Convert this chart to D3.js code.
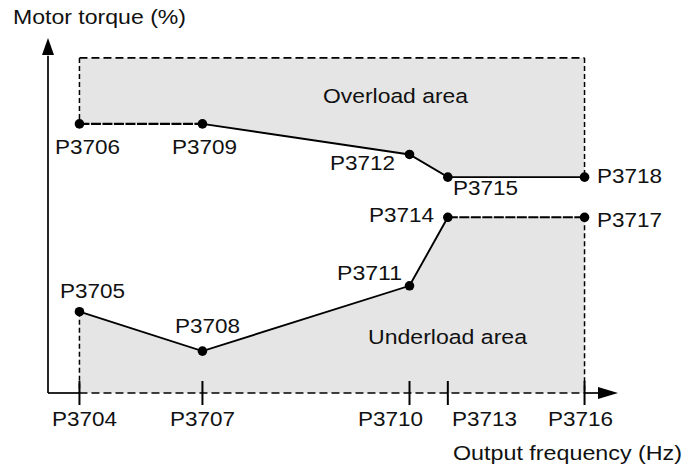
<!DOCTYPE html>
<html>
<head>
<meta charset="utf-8">
<script src="https://cdn.jsdelivr.net/npm/d3@7"></script>
<style>
  html, body { margin: 0; padding: 0; background: #fff; }
  svg { display: block; }
  text { font-family: "Liberation Sans", Arial, Helvetica, sans-serif; font-size: 20.5px; fill: #111; }
</style>
</head>
<body>
<svg id="chart" width="691" height="467"></svg>
<script>
// Output frequency breakpoints (relative units) and their parameter names
const freqParams = ["P3704", "P3707", "P3710", "P3713", "P3716"];
const freqValues = [5.5, 27, 63.2, 69.9, 93.8];

// Lower (underload) torque threshold at each breakpoint (% of axis)
const underParams = ["P3705", "P3708", "P3711", "P3714", "P3717"];
const underTorque = [22.9, 11.8, 30.2, 49.5, 49.5];

// Upper (overload) torque threshold at each breakpoint (% of axis)
const overParams = ["P3706", "P3709", "P3712", "P3715", "P3718"];
const overTorque = [75.8, 75.8, 67.2, 60.8, 60.8];

// Upper edge of the shaded overload band
const overloadCeiling = 94.4;

const axisTitles = { y: "Motor torque (%)", x: "Output frequency (Hz)" };
const areaTitles = { over: "Overload area", under: "Underload area" };

const svg = d3.select("#chart");
const x = d3.scaleLinear().domain([0, 100]).range([48, 620]);
const y = d3.scaleLinear().domain([0, 100]).range([393, 38]);

const fill = "#e5e5e5";
const ink = "#000";

// text set in a slightly wide face: each label is fitted to a fixed run length
function label(px, py, str, len) {
  svg.append("text")
    .attr("x", px).attr("y", py)
    .attr("textLength", len)
    .attr("lengthAdjust", "spacingAndGlyphs")
    .text(str);
}
const paramLen = 65;

const over = freqValues.map((f, i) => ({ f, t: overTorque[i], name: overParams[i] }));
const under = freqValues.map((f, i) => ({ f, t: underTorque[i], name: underParams[i] }));
const fFirst = freqValues[0], fLast = freqValues[freqValues.length - 1];

// ---- shaded regions ----
const overPoly = [[fFirst, overloadCeiling], [fLast, overloadCeiling]]
  .concat(over.slice().reverse().map(d => [d.f, d.t]));
const underPoly = [[fFirst, 0]].concat(under.map(d => [d.f, d.t])).concat([[fLast, 0]]);
const poly = d3.line().x(d => x(d[0])).y(d => y(d[1]));

svg.append("path").attr("d", poly(overPoly) + "Z").attr("fill", fill);
svg.append("path").attr("d", poly(underPoly) + "Z").attr("fill", fill);

// ---- dashed region borders ----
function seg(a, b, dash, w) {
  svg.append("line")
    .attr("x1", x(a[0])).attr("y1", y(a[1]))
    .attr("x2", x(b[0])).attr("y2", y(b[1]))
    .attr("stroke", ink).attr("stroke-width", w)
    .attr("stroke-dasharray", dash);
}
// overload band
seg([fFirst, overloadCeiling], [fLast, overloadCeiling], "8,4", 1.6);
seg([fFirst, overloadCeiling], [fFirst, over[0].t], "5,3", 1.5);
seg([fLast, overloadCeiling], [fLast, over[4].t], "5,3", 1.5);
seg([over[0].f, over[0].t], [over[1].f, over[1].t], "10,1.5", 2.1);
// underload band
seg([fFirst, under[0].t], [fFirst, 0], "5,3", 1.5);
seg([fLast, under[4].t], [fLast, 0], "5,3", 1.5);
seg([under[3].f, under[3].t], [under[4].f, under[4].t], "10,1.5", 2.1);
seg([fFirst, 0], [fLast, 0], "8,4", 1.7);

// ---- solid threshold curves ----
const curve = d3.line().x(d => x(d.f)).y(d => y(d.t));
svg.append("path").attr("d", curve(over.slice(1)))
  .attr("fill", "none").attr("stroke", ink).attr("stroke-width", 1.9);
svg.append("path").attr("d", curve(under.slice(0, 4)))
  .attr("fill", "none").attr("stroke", ink).attr("stroke-width", 1.9);

// ---- axes ----
const axis = svg.append("g").attr("stroke", ink).attr("stroke-width", 1.7);
axis.append("line").attr("x1", x(0)).attr("y1", y(0)).attr("x2", x(0)).attr("y2", y(95));
axis.append("line").attr("x1", x(0)).attr("y1", y(0)).attr("x2", x(fFirst)).attr("y2", y(0));
axis.append("line").attr("x1", x(fLast)).attr("y1", y(0)).attr("x2", x(97)).attr("y2", y(0));
// arrow heads
svg.append("path")
  .attr("d", `M${x(0)},${y(100)} L${x(0) - 6},${y(100) + 17} L${x(0) + 6},${y(100) + 17} Z`)
  .attr("fill", ink);
svg.append("path")
  .attr("d", `M${x(100) - 2},${y(0)} L${x(100) - 22},${y(0) - 6} L${x(100) - 22},${y(0) + 6} Z`)
  .attr("fill", ink);

// ticks crossing the frequency axis
svg.selectAll("line.tick").data(freqValues).join("line")
  .attr("class", "tick")
  .attr("x1", d => x(d)).attr("x2", d => x(d))
  .attr("y1", y(0) - 12).attr("y2", y(0) + 12)
  .attr("stroke", ink).attr("stroke-width", 2);

// tick labels (horizontal offsets keep neighbouring names apart)
const tickDx = [-27.5, -32.4, -51.5, 4.2, -36.5];
freqParams.forEach((p, i) => label(x(freqValues[i]) + tickDx[i], y(0) + 33, p, paramLen));

// ---- breakpoint markers ----
svg.selectAll("circle.pt").data(over.concat(under)).join("circle")
  .attr("class", "pt")
  .attr("cx", d => x(d.f)).attr("cy", d => y(d.t)).attr("r", 4.8)
  .attr("fill", ink);

// point labels, offset from each marker
const pointOffsets = {
  P3706: [-24.5, 30], P3709: [-30.4, 30], P3712: [-79.5, 15.6], P3715: [5.2, 17.8], P3718: [12.5, 5.8],
  P3705: [-19.5, -13.7], P3708: [-27.4, -18.1], P3711: [-72.5, -5.8], P3714: [-78.8, 4.7], P3717: [12.5, 9.7]
};
over.concat(under).forEach(d => {
  const o = pointOffsets[d.name];
  label(x(d.f) + o[0], y(d.t) + o[1], d.name, paramLen);
});

// ---- titles ----
label(13, 24, axisTitles.y, 173);
label(453, 460, axisTitles.x, 229);
label(323, 103, areaTitles.over, 145);
label(368, 344, areaTitles.under, 159);
</script>
</body>
</html>
